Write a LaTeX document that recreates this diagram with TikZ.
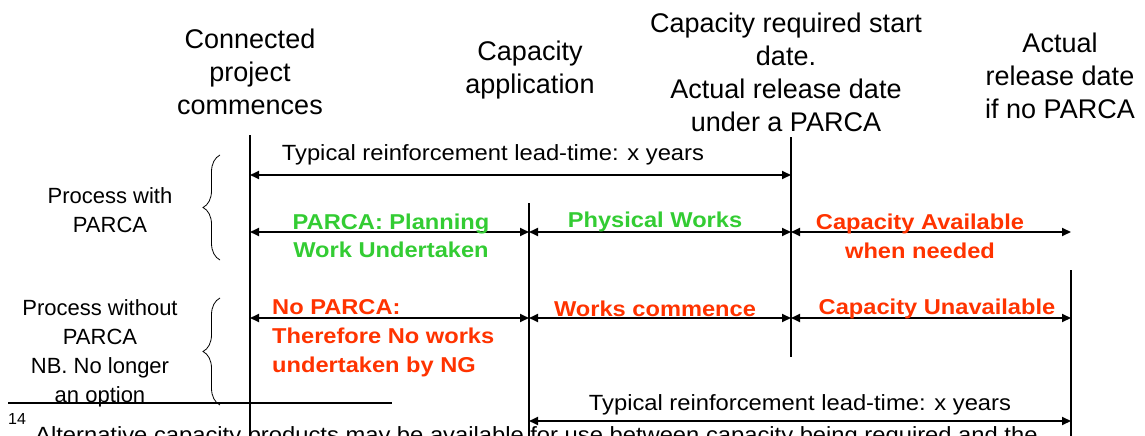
\documentclass[tikz,border=0pt]{standalone}
\usepackage{fontspec}
\setmainfont{Liberation Sans}
\newfontfamily\widefont[FakeStretch=1.08]{Liberation Sans}
\newfontfamily\widebold[FakeStretch=1.1]{Liberation Sans Bold}
\usetikzlibrary{arrows.meta,decorations.pathreplacing}
\definecolor{pgreen}{RGB}{51,204,51}
\definecolor{pred}{RGB}{255,51,0}
\begin{document}
\begin{tikzpicture}[x=1pt,y=-1pt,
  toplab/.style={align=center,inner sep=0pt,font=\fontsize{27}{33}\selectfont},
  sidelab/.style={align=center,inner sep=0pt,font=\fontsize{22}{29}\selectfont},
  spanlab/.style={inner sep=0pt,font=\widefont\fontsize{22}{26}\selectfont},
  glab/.style={inner sep=0pt,align=center,text=pgreen,font=\widebold\fontsize{21.5}{28.5}\selectfont},
  rlab/.style={inner sep=0pt,align=center,text=pred,font=\widebold\fontsize{21.5}{29}\selectfont},
  vline/.style={line width=1.2pt},
  spanarrow/.style={line width=1.8pt,{Triangle[length=9pt,width=8pt]}-{Triangle[length=9pt,width=8pt]}},
  brc/.style={decorate,decoration={brace,amplitude=17pt},line width=0.8pt},
  rule/.style={line width=1.6pt}
]
\useasboundingbox (0,0) rectangle (1145,436);
\clip (0,0) rectangle (1145,436);

% time points (vertical lines)
\coordinate (v0t) at (250,135); \coordinate (v0b) at (250,440);
\coordinate (v1t) at (529,203); \coordinate (v1b) at (529,440);
\coordinate (v2t) at (791,137); \coordinate (v2b) at (791,357);
\coordinate (v3t) at (1071,270); \coordinate (v3b) at (1071,440);
% rows
\coordinate (r0) at (0,175);
\coordinate (r1) at (0,232);
\coordinate (r2) at (0,318);
\coordinate (r3) at (0,421);

\draw[vline] (v0t) -- (v0b);
\draw[vline] (v1t) -- (v1b);
\draw[vline] (v2t) -- (v2b);
\draw[vline] (v3t) -- (v3b);

% top labels
\node[toplab] (lconn) at (250,72) {Connected\\project\\commences};
\node[toplab] (lapp) at (530,70) {Capacity\\application};
\node[toplab] (lreq) at (786,72) {Capacity required start\\date.\\Actual release date\\under a PARCA};
\node[toplab] (lact) at (1060,76) {Actual\\release date\\if no PARCA};

% side labels and braces
\node[sidelab] (pwith) at (110,210) {Process with\\PARCA};
\node[sidelab] (pwithout) at (100,353) {Process without\\PARCA\\NB. No longer\\an option};
\coordinate (b1t) at (220,155); \coordinate (b1b) at (220,260);
\coordinate (b2t) at (220,298); \coordinate (b2b) at (220,405);
\draw[brc] (b1b) -- (b1t);
\draw[brc] (b2b) -- (b2t);

% lead-time top
\draw[spanarrow] (v0t |- r0) -- (v2t |- r0);
\node[spanlab] (lead1) at (493,155) {Typical reinforcement lead-time: x years};

% row with PARCA
\draw[spanarrow] (v0t |- r1) -- (v1t |- r1);
\draw[spanarrow] (v1t |- r1) -- (v2t |- r1);
\draw[spanarrow] (v2t |- r1) -- (v3t |- r1);
\node[glab] (plan) at (391,236) {PARCA: Planning\\Work Undertaken};
\node[glab] (phys) at (655,222) {Physical Works};
\node[rlab] (avail) at (920,236) {Capacity Available\\when needed};

% row without PARCA
\draw[spanarrow] (v0t |- r2) -- (v1t |- r2);
\draw[spanarrow] (v1t |- r2) -- (v2t |- r2);
\draw[spanarrow] (v2t |- r2) -- (v3t |- r2);
\node[rlab,align=left,anchor=west] (nop) at (272,338) {No PARCA:\\Therefore No works\\undertaken by NG};
\node[rlab] (comm) at (655,309) {Works commence};
\node[rlab] (unav) at (937,309) {Capacity Unavailable};

% lead-time bottom
\draw[spanarrow] (v1t |- r3) -- (v3t |- r3);
\node[spanlab] (lead2) at (800,405) {Typical reinforcement lead-time: x years};

% footnote
\coordinate (fl) at (8,403); \coordinate (fr) at (392,403);
\draw[rule] (fl) -- (fr);
\node[inner sep=0pt,anchor=west,font=\fontsize{16}{18}\selectfont] (fnum) at (8,419) {14};
\node[inner sep=0pt,anchor=base west,font=\widefont\fontsize{22}{26}\selectfont] (fnote) at (35,442) {Alternative capacity products may be available for use between capacity being required and the};
\end{tikzpicture}
\end{document}
